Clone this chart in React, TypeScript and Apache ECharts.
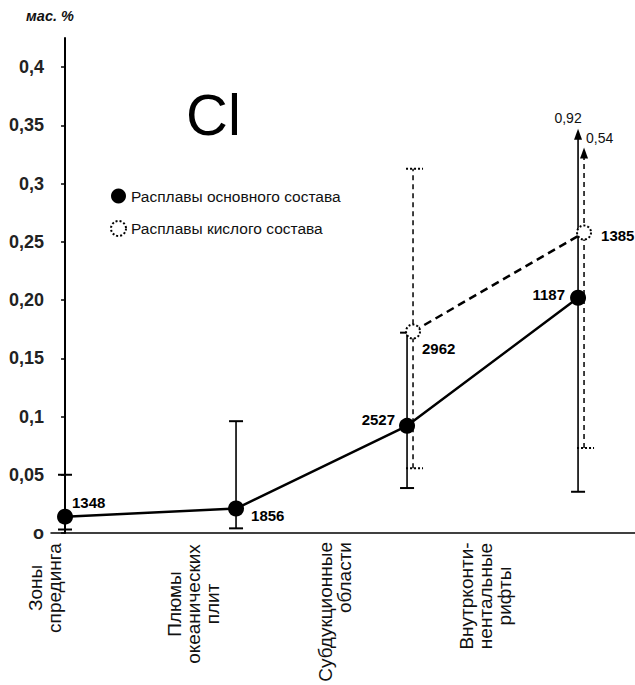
import React, { useEffect, useRef } from 'react';
import * as echarts from 'echarts';

// ---------- data ----------
const categories = [
  'Зоны\nспрединга',
  'Плюмы\nокеанических\nплит',
  'Субдукционные\nобласти',
  'Внутрконти-\nнентальные\nрифты',
];
const seriesNames = ['Расплавы основного состава', 'Расплавы кислого состава'];
const yTickValues = [0, 0.05, 0.1, 0.15, 0.2, 0.25, 0.3, 0.35, 0.4];
const yTickLabels = ['o', '0,05', '0,1', '0,15', '0,20', '0,25', '0,3', '0,35', '0,4'];
const yAxisName = 'мас. %';
const elementName = 'Cl';

// basic melts (solid)
const basicCat = [0, 1, 2, 3];
const basicMean = [0.014, 0.021, 0.092, 0.202];
const basicLow = [0.003, 0.004, 0.0386, 0.0354];
const basicHigh = [0.05, 0.096, 0.172, 0.92];
const basicCount = ['1348', '1856', '2527', '1187'];

// acid melts (dashed)
const acidCat = [2, 3];
const acidMean = [0.173, 0.258];
const acidLow = [0.0555, 0.073];
const acidHigh = [0.3128, 0.54];
const acidCount = ['2962', '1385'];

// ---------- layout / style ----------
const FONT = '"Liberation Sans", Arial, Helvetica, sans-serif';
const ACID_SHIFT = 0.035; // small horizontal offset of the acid series
const Y_MAX = 0.425;
const ARROW_TOP_BASIC = 0.347;
const ARROW_TOP_ACID = 0.331;

const basicLabelPlace = [
  { position: 'right', offset: [-6, -14] },
  { position: 'right', offset: [2, 7] },
  { position: 'left', offset: [1, -6] },
  { position: 'left', offset: [0, -3] },
];
const acidLabelPlace = [
  { position: 'right', offset: [-4, 17] },
  { position: 'right', offset: [4, 3] },
];
const xLabelPlace = [
  { x: 45, y: 588, align: 'center' },
  { x: 193, y: 604, align: 'center' },
  { x: 335, y: 542, align: 'right' },
  { x: 485, y: 596, align: 'center' },
];

const fmt = (v: number) => String(v).replace('.', ',');

function makeErrorRender(o: any) {
  return (params: any, api: any) => {
    const x = api.value(0);
    const lo = api.value(1);
    const hi = api.value(2);
    const arrow = hi > o.arrowTop;
    const top = arrow ? o.arrowTop : hi;
    const pLo = api.coord([x, lo]);
    const pHi = api.coord([x, top]);
    const children: any[] = [];
    children.push({
      type: 'line',
      shape: { x1: pLo[0], y1: pLo[1], x2: pHi[0], y2: arrow ? pHi[1] + 8 : pHi[1] },
      style: { stroke: '#000', lineWidth: o.lw, lineDash: o.dash },
    });
    children.push({
      type: 'line',
      shape: { x1: pLo[0] + o.capL, y1: pLo[1], x2: pLo[0] + o.capR, y2: pLo[1] },
      style: { stroke: '#000', lineWidth: o.capW, lineDash: o.capDash },
    });
    if (arrow) {
      children.push({
        type: 'polygon',
        shape: {
          points: [
            [pHi[0], pHi[1]],
            [pHi[0] - 4, pHi[1] + 11],
            [pHi[0] + 4, pHi[1] + 11],
          ],
        },
        style: { fill: '#000' },
      });
      children.push({
        type: 'text',
        x: pHi[0] + o.lblDx,
        y: pHi[1] + o.lblDy,
        style: {
          text: fmt(hi),
          fill: '#111',
          font: `14px ${FONT}`,
          align: o.lblAlign,
          textAlign: o.lblAlign,
          verticalAlign: 'middle',
          textVerticalAlign: 'middle',
        },
      });
    } else {
      children.push({
        type: 'line',
        shape: { x1: pHi[0] + o.capL, y1: pHi[1], x2: pHi[0] + o.capR, y2: pHi[1] },
        style: { stroke: '#000', lineWidth: o.capW, lineDash: o.capDash },
      });
    }
    return { type: 'group', children };
  };
}

export default function App() {
  const ref = useRef<HTMLDivElement>(null);

  useEffect(() => {
    if (!ref.current) return;
    const chart = echarts.init(ref.current, undefined, { renderer: 'svg' });

    const option: any = {
      animation: false,
      backgroundColor: '#fff',
      title: {
        text: elementName,
        left: 181,
        top: 80,
        textStyle: { fontSize: 58, fontWeight: 'normal', color: '#000', fontFamily: FONT },
      },
      legend: {
        orient: 'vertical',
        left: 105,
        top: 183,
        itemWidth: 15,
        itemHeight: 15,
        itemGap: 16,
        textStyle: { fontSize: 15.5, color: '#111', fontFamily: FONT },
        data: [
          { name: seriesNames[0], icon: 'circle', itemStyle: { color: '#000' } },
          {
            name: seriesNames[1],
            icon: 'circle',
            itemStyle: { color: '#fff', borderColor: '#000', borderWidth: 2, borderType: [2, 2] },
          },
        ],
      },
      grid: { left: 51, right: 0, top: 38, bottom: 152, containLabel: false },
      xAxis: {
        type: 'value',
        min: -0.082,
        max: 3.333,
        axisLine: { show: true, lineStyle: { color: '#000', width: 1.5 } },
        axisTick: { show: false },
        axisLabel: { show: false },
        splitLine: { show: false },
      },
      yAxis: {
        type: 'value',
        min: 0,
        max: Y_MAX,
        name: yAxisName,
        nameLocation: 'end',
        nameGap: 15,
        nameTextStyle: {
          fontSize: 14.5,
          fontStyle: 'italic',
          fontWeight: 'bold',
          color: '#111',
          fontFamily: FONT,
          padding: [0, 30, 0, 0],
        },
        axisLine: { show: true, lineStyle: { color: '#000', width: 2 } },
        axisTick: {
          show: true,
          inside: false,
          length: 4,
          customValues: yTickValues,
          lineStyle: { color: '#000', width: 1.5 },
        },
        axisLabel: {
          show: true,
          margin: 7,
          customValues: yTickValues,
          fontSize: 18,
          fontWeight: 'bold',
          color: '#222',
          fontFamily: FONT,
          formatter: (v: number) => {
            const idx = yTickValues.findIndex((t) => Math.abs(t - v) < 1e-9);
            return idx >= 0 ? yTickLabels[idx] : '';
          },
        },
        splitLine: { show: false },
      },
      graphic: categories.map((c, i) => ({
        type: 'text',
        x: xLabelPlace[i].x,
        y: xLabelPlace[i].y,
        rotation: Math.PI / 2,
        style: {
          text: c,
          font: `19px ${FONT}`,
          fill: '#111',
          align: xLabelPlace[i].align,
          textAlign: xLabelPlace[i].align,
          verticalAlign: 'middle',
          textVerticalAlign: 'middle',
          lineHeight: 19,
        },
      })),
      series: [
        {
          type: 'custom',
          name: 'basic-range',
          coordinateSystem: 'cartesian2d',
          clip: false,
          silent: true,
          encode: { x: 0, y: [1, 2] },
          data: basicCat.map((c, i) => [c, basicLow[i], basicHigh[i]]),
          renderItem: makeErrorRender({
            arrowTop: ARROW_TOP_BASIC,
            lw: 1.6,
            dash: null,
            capL: -7,
            capR: 7,
            capW: 2,
            capDash: null,
            lblDx: -10,
            lblDy: -11,
            lblAlign: 'center',
          }),
          z: 1,
        },
        {
          type: 'custom',
          name: 'acid-range',
          coordinateSystem: 'cartesian2d',
          clip: false,
          silent: true,
          encode: { x: 0, y: [1, 2] },
          data: acidCat.map((c, i) => [c + ACID_SHIFT, acidLow[i], acidHigh[i]]),
          renderItem: makeErrorRender({
            arrowTop: ARROW_TOP_ACID,
            lw: 1.5,
            dash: [5, 4],
            capL: -7,
            capR: 10,
            capW: 2,
            capDash: [2, 2],
            lblDx: 2,
            lblDy: -9,
            lblAlign: 'left',
          }),
          z: 1,
        },
        {
          type: 'line',
          name: seriesNames[0],
          symbol: 'circle',
          symbolSize: 16,
          itemStyle: { color: '#000' },
          lineStyle: { color: '#000', width: 2.5 },
          label: { fontSize: 15, fontWeight: 'bold', color: '#000', fontFamily: FONT },
          emphasis: { disabled: true },
          data: basicCat.map((c, i) => ({
            value: [c, basicMean[i]],
            label: {
              show: true,
              formatter: basicCount[i],
              position: basicLabelPlace[i].position,
              offset: basicLabelPlace[i].offset,
            },
          })),
          z: 3,
        },
        {
          type: 'line',
          name: seriesNames[1],
          symbol: 'circle',
          symbolSize: 14,
          itemStyle: { color: '#fff', borderColor: '#000', borderWidth: 2, borderType: [2, 2] },
          lineStyle: { color: '#000', width: 2.5, type: [8, 5] },
          label: { fontSize: 15, fontWeight: 'bold', color: '#000', fontFamily: FONT },
          emphasis: { disabled: true },
          data: acidCat.map((c, i) => ({
            value: [c + ACID_SHIFT, acidMean[i]],
            label: {
              show: true,
              formatter: acidCount[i],
              position: acidLabelPlace[i].position,
              offset: acidLabelPlace[i].offset,
            },
          })),
          z: 3,
        },
      ],
    };

    chart.setOption(option);
    return () => chart.dispose();
  }, []);

  return (
    <div
      ref={ref}
      style={{ position: 'absolute', left: 0, top: 0, width: 635, height: 685, background: '#fff' }}
    />
  );
}
